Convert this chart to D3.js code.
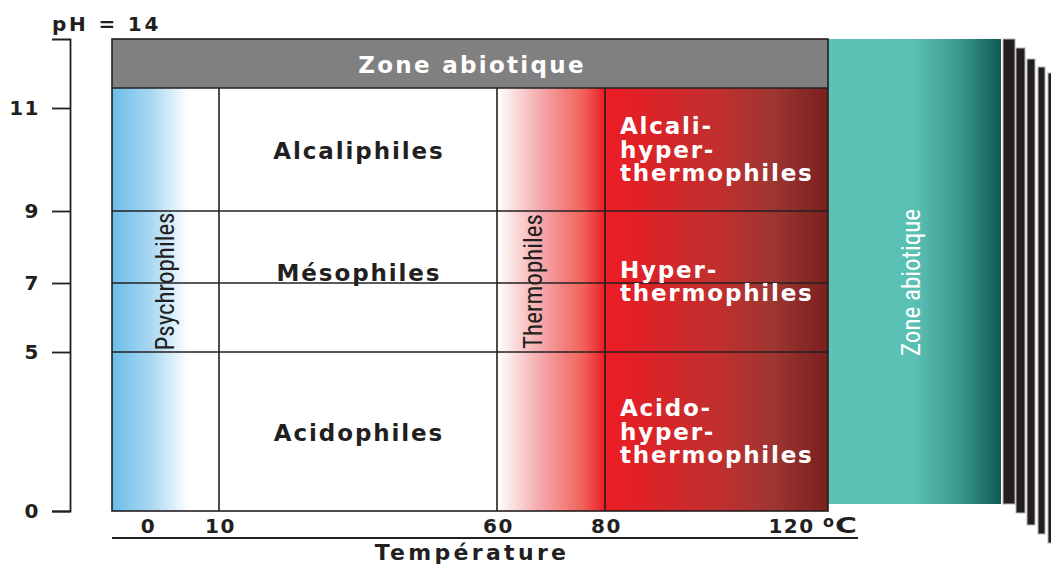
<!DOCTYPE html>
<html>
<head>
<meta charset="utf-8">
<script src="https://cdn.jsdelivr.net/npm/d3@7"></script>
<style>
  body { margin: 0; background: #fff; }
  svg { display: block; }
</style>
</head>
<body>
<svg id="chart" width="1051" height="565"></svg>
<script>
const ink = '#231f20';

// pH axis (schematic, not linear)
const phStops = [0, 5, 7, 9, 11, 12, 14];
const phTicks = [0, 5, 7, 9, 11];
const phLines = [5, 7, 9];
const phTop = 14;
const phAbiotic = 12;

// temperature axis (schematic)
const tempStops = [-5, 0, 10, 60, 80, 120, 127];
const tempTicks = [0, 10, 60, 80, 120];
const tempLines = [10, 60, 80];
const tempUnit = 'C';

// pH groups (middle column)
const phNames = ['Acidophiles', 'Mésophiles', 'Alcaliphiles'];
const phLow = [0, 5, 9];
const phHigh = [5, 9, 12];

// hyperthermophile groups (right column)
const hyperNames = [['Acido-', 'hyper-', 'thermophiles'], ['Hyper-', 'thermophiles'], ['Alcali-', 'hyper-', 'thermophiles']];

// temperature groups (vertical labels)
const tempNames = ['Psychrophiles', 'Thermophiles'];
const tempFrom = [-5, 60];
const tempTo = [10, 80];

const abioticLabel = 'Zone abiotique';
const stripeCount = 5;

const svg = d3.select('#chart');
const defs = svg.append('defs');

const y = d3.scaleLinear().domain(phStops).range([511, 352, 283, 211, 108, 88, 39]);
const x = d3.scaleLinear().domain(tempStops).range([112, 147, 219, 497, 605, 790, 828]);

const tMin = tempStops[0], tMax = tempStops[tempStops.length - 1];
const left = x(tMin), right = x(tMax);

function grad(id, x1, x2, stops) {
    const g = defs.append('linearGradient').attr('id', id)
        .attr('gradientUnits', 'userSpaceOnUse')
        .attr('x1', x1).attr('x2', x2).attr('y1', 0).attr('y2', 0);
    stops.forEach(s => g.append('stop').attr('offset', s[0]).attr('stop-color', s[1]));
}
grad('gBlue', left, x(10), [[0, '#6bbde8'], [0.35, '#a6d6f1'], [0.72, '#ffffff'], [1, '#ffffff']]);
grad('gThermo', x(60), x(80), [[0, '#ffffff'], [0.4, '#f4a9ab'], [0.8, '#f0615a'], [1, '#ec1c24']]);
grad('gHyper', x(80), right, [[0, '#ed1c24'], [0.5, '#c12f2e'], [0.75, '#9e3632'], [1, '#78201d']]);

const teal0 = right, teal1 = 1001;
grad('gTeal', teal0, teal1, [[0, '#5dc2b6'], [0.5, '#5bc0b4'], [0.75, '#3c9a90'], [1, '#0e5b54']]);

// background fills
svg.append('rect').attr('x', left).attr('y', y(phAbiotic)).attr('width', x(10) - left)
    .attr('height', y(0) - y(phAbiotic)).attr('fill', 'url(#gBlue)');
svg.append('rect').attr('x', x(60)).attr('y', y(phAbiotic)).attr('width', x(80) - x(60))
    .attr('height', y(0) - y(phAbiotic)).attr('fill', 'url(#gThermo)');
svg.append('rect').attr('x', x(80)).attr('y', y(phAbiotic)).attr('width', right - x(80))
    .attr('height', y(0) - y(phAbiotic)).attr('fill', 'url(#gHyper)');

// abiotic top band
svg.append('rect').attr('x', left).attr('y', y(phTop)).attr('width', right - left)
    .attr('height', y(phAbiotic) - y(phTop)).attr('fill', '#808080');

// abiotic teal column + black stripes
svg.append('rect').attr('x', teal0).attr('y', y(phTop)).attr('width', teal1 - teal0)
    .attr('height', 504 - y(phTop)).attr('fill', 'url(#gTeal)');

const stripes = d3.range(stripeCount);
svg.selectAll('rect.stripe').data(stripes).join('rect')
    .attr('class', 'stripe')
    .attr('x', i => [1003, 1016, 1027, 1038, 1048][i])
    .attr('y', i => y(phTop) + [0, 9, 20, 28, 34][i])
    .attr('width', i => [12, 9, 8, 7, 6][i])
    .attr('height', i => [465, 465, 466, 467, 470][i])
    .attr('fill', ink)
    .attr('stroke', '#b5b5b5').attr('stroke-width', 1);

// grid lines
const grid = svg.append('g').attr('stroke', ink).attr('stroke-width', 1.6).attr('fill', 'none');
grid.selectAll('line.h').data(phLines).join('line')
    .attr('x1', left).attr('x2', right).attr('y1', d => y(d)).attr('y2', d => y(d));
grid.selectAll('line.v').data(tempLines).join('line')
    .attr('x1', d => x(d)).attr('x2', d => x(d)).attr('y1', y(phAbiotic)).attr('y2', y(0));
grid.append('line').attr('x1', left).attr('x2', right).attr('y1', y(phAbiotic)).attr('y2', y(phAbiotic));
grid.append('rect').attr('x', left).attr('y', y(phTop)).attr('width', right - left).attr('height', y(0) - y(phTop));

const boldFont = '"DejaVu Sans", sans-serif';
const narrowFont = '"Liberation Sans Narrow", "Roboto Condensed", sans-serif';
const boldText = (sel, size = 23, ls = 1.9) => sel.style('font-family', boldFont)
    .style('font-weight', 'bold').style('font-size', size + 'px').style('letter-spacing', ls + 'px');

// top abiotic label
svg.append('text').call(boldText, 23, 2.3)
    .attr('x', (left + right) / 2 + 2).attr('y', (y(phTop) + y(phAbiotic)) / 2 + 1)
    .attr('text-anchor', 'middle').attr('dominant-baseline', 'central')
    .attr('fill', '#fff').text(abioticLabel);

// pH group labels in the middle column
svg.selectAll('text.ph').data(phNames).join('text').call(boldText, 23, 1.9)
    .attr('class', 'ph')
    .attr('x', (x(10) + x(60)) / 2 + 1)
    .attr('y', (d, i) => (y(phLow[i]) + y(phHigh[i])) / 2 + (i === 1 ? -9 : 1))
    .attr('text-anchor', 'middle').attr('dominant-baseline', 'central')
    .attr('fill', ink).text(d => d);

// hyperthermophile labels
const hyperMid = [(y(0) + y(5)) / 2, (y(5) + y(9)) / 2, (y(9) + y(phAbiotic)) / 2];
hyperNames.forEach((lines, i) => {
    const t = svg.append('text').call(boldText, 23, 1.8).attr('fill', '#fff').attr('dominant-baseline', 'central');
    lines.forEach((ln, j) => {
        t.append('tspan').attr('x', x(80) + 15)
            .attr('y', hyperMid[i] + (j - (lines.length - 1) / 2) * 23.5)
            .text(ln);
    });
});

// vertical temperature-group labels
const tempOffset = [53, 36];
svg.selectAll('text.temp').data(tempNames).join('text')
    .attr('class', 'temp')
    .attr('transform', (d, i) => `translate(${x(tempFrom[i]) + tempOffset[i]},${(y(5) + y(9)) / 2}) rotate(-90)`)
    .attr('text-anchor', 'middle').attr('dominant-baseline', 'central')
    .style('font-family', narrowFont).style('font-size', '25px')
    .attr('fill', ink).text(d => d);

svg.append('text')
    .attr('transform', `translate(${(teal0 + teal1) / 2 - 3},${(y(5) + y(9)) / 2 + 1}) rotate(-90)`)
    .attr('text-anchor', 'middle').attr('dominant-baseline', 'central')
    .style('font-family', narrowFont).style('font-size', '25px')
    .attr('fill', '#fff').text(abioticLabel);

// pH axis
const yAxis = svg.append('g').attr('transform', 'translate(70,0)')
    .call(d3.axisLeft(y).tickValues(phTicks).tickSize(18).tickPadding(12));
yAxis.selectAll('path, line').attr('stroke', ink).attr('stroke-width', 1.8);
yAxis.selectAll('text').call(boldText, 20, 1.5).attr('fill', ink);

svg.append('text').call(boldText, 20, 2.8)
    .attr('x', 52).attr('y', 31).attr('fill', ink).text('pH = ' + phTop);

// temperature axis
const xAxis = svg.append('g').attr('transform', `translate(0,${y(0)})`)
    .call(d3.axisBottom(x).tickValues(tempTicks).tickSize(0).tickPadding(8));
xAxis.select('.domain').remove();
xAxis.selectAll('text').call(boldText, 20, 1.5).attr('fill', ink).attr('dx', 1);

const unit = svg.append('text').call(boldText, 20, 0).attr('fill', ink)
    .attr('x', x(120) + 33).attr('y', 533);
unit.append('tspan').style('font-size', '16px').attr('dy', -6).text('o');
unit.append('tspan').attr('dy', 6).attr('dx', 1).style('font-size', '21px')
    .attr('textLength', 22).attr('lengthAdjust', 'spacingAndGlyphs').text(tempUnit);

svg.append('line').attr('x1', left).attr('x2', 858).attr('y1', 538).attr('y2', 538)
    .attr('stroke', ink).attr('stroke-width', 1.8);

svg.append('text').call(boldText, 22, 3.3)
    .attr('x', 472).attr('y', 560).attr('text-anchor', 'middle')
    .attr('fill', ink).text('Température');
</script>
</body>
</html>
